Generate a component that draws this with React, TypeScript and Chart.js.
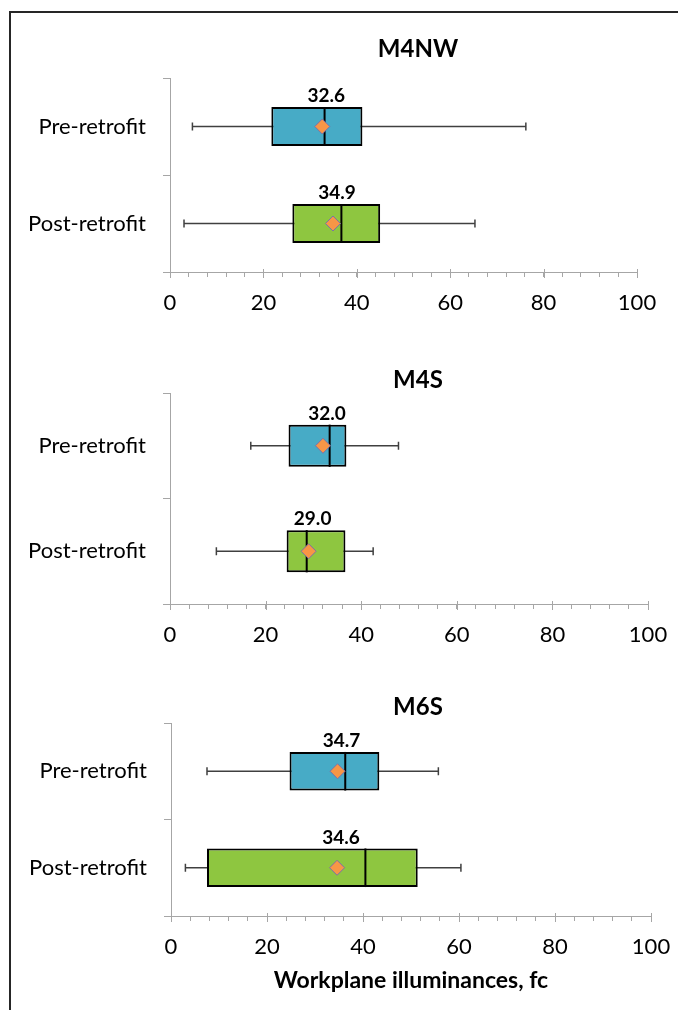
import { useEffect, useRef } from 'react';
import { Chart, registerables } from 'chart.js';

Chart.register(...registerables);

// ---------- data ----------
const categories = ['Pre-retrofit', 'Post-retrofit'];
const panelTitles = ['M4NW', 'M4S', 'M6S'];
const xTickLabels = [0, 20, 40, 60, 80, 100];
const xAxisTitle = 'Workplane illuminances, fc';

const m4nwMin = [4.8, 3.0];
const m4nwQ1 = [21.7, 26.2];
const m4nwMedian = [33.1, 36.7];
const m4nwQ3 = [41.2, 45.0];
const m4nwMax = [76.2, 65.3];
const m4nwMean = [32.6, 34.9];

const m4sMin = [16.9, 9.7];
const m4sQ1 = [24.8, 24.4];
const m4sMedian = [33.4, 28.6];
const m4sQ3 = [36.9, 36.7];
const m4sMax = [47.8, 42.5];
const m4sMean = [32.0, 29.0];

const m6sMin = [7.5, 3.0];
const m6sQ1 = [24.7, 7.5];
const m6sMedian = [36.3, 40.5];
const m6sQ3 = [43.4, 51.4];
const m6sMax = [55.7, 60.4];
const m6sMean = [34.7, 34.6];

const panelStats = [
  { min: m4nwMin, q1: m4nwQ1, median: m4nwMedian, q3: m4nwQ3, max: m4nwMax, mean: m4nwMean },
  { min: m4sMin, q1: m4sQ1, median: m4sMedian, q3: m4sQ3, max: m4sMax, mean: m4sMean },
  { min: m6sMin, q1: m6sQ1, median: m6sMedian, q3: m6sQ3, max: m6sMax, mean: m6sMean },
];

// ---------- style ----------
const boxColors = ['#47ABC6', '#8EC640'];
const meanFill = '#F79646';
const meanBorder = '#7E6FA8';
const axisColor = '#A6A6A6';
const FONT = "Lato, 'Open Sans', sans-serif";
const CANVAS_W = 836;

const geom = [
  { top: 22, height: 295, left: 170, right: 637, padTop: 15, padBottom: 17, xAxisH: 45, xTitle: false },
  { top: 345, height: 304, left: 170, right: 648, padTop: 23, padBottom: 1, xAxisH: 45, xTitle: false },
  { top: 672, height: 329, left: 171, right: 651, padTop: 23, padBottom: 4, xAxisH: 85, xTitle: true },
];

function makeBoxPlugin(stats: any) {
  return {
    id: 'boxExtras',
    beforeDatasetsDraw(chart: any) {
      const { ctx } = chart;
      const xs = chart.scales.x;
      const ys = chart.scales.y;
      ctx.save();
      ctx.strokeStyle = '#404040';
      ctx.lineWidth = 1.5;
      stats.min.forEach((mn: number, i: number) => {
        const py = ys.getPixelForValue(i);
        const x1 = xs.getPixelForValue(mn);
        const x2 = xs.getPixelForValue(stats.max[i]);
        ctx.beginPath();
        ctx.moveTo(x1, py);
        ctx.lineTo(x2, py);
        ctx.moveTo(x1, py - 4);
        ctx.lineTo(x1, py + 4);
        ctx.moveTo(x2, py - 4);
        ctx.lineTo(x2, py + 4);
        ctx.stroke();
      });
      // major ticks that cross the x axis slightly
      ctx.strokeStyle = axisColor;
      ctx.lineWidth = 1;
      const yb = chart.chartArea.bottom;
      xTickLabels.forEach((v) => {
        const px = Math.round(xs.getPixelForValue(v)) + 0.5;
        ctx.beginPath();
        ctx.moveTo(px, yb - 3);
        ctx.lineTo(px, yb + 6);
        ctx.stroke();
      });
      ctx.restore();
    },
    afterDatasetDraw(chart: any, args: any) {
      if (args.index !== 0) return;
      const { ctx } = chart;
      const xs = chart.scales.x;
      ctx.save();
      ctx.strokeStyle = '#000';
      ctx.lineWidth = 2;
      args.meta.data.forEach((el: any, i: number) => {
        const p = el.getProps(['y', 'height'], true);
        const px = xs.getPixelForValue(stats.median[i]);
        ctx.beginPath();
        ctx.moveTo(px, p.y - p.height / 2);
        ctx.lineTo(px, p.y + p.height / 2);
        ctx.stroke();
      });
      ctx.restore();
    },
    afterDatasetsDraw(chart: any) {
      const { ctx } = chart;
      const barMeta = chart.getDatasetMeta(0);
      const meanMeta = chart.getDatasetMeta(1);
      ctx.save();
      ctx.fillStyle = '#000';
      ctx.font = `bold 19px ${FONT}`;
      ctx.textAlign = 'center';
      ctx.textBaseline = 'middle';
      meanMeta.data.forEach((pt: any, i: number) => {
        const bar = barMeta.data[i].getProps(['y', 'height'], true);
        ctx.fillText(stats.mean[i].toFixed(1), pt.x + 4, bar.y - bar.height / 2 - 11);
      });
      ctx.restore();
    },
  };
}

function Panel({ idx }: { idx: number }) {
  const ref = useRef<HTMLCanvasElement>(null);
  const g = geom[idx];
  useEffect(() => {
    const stats = panelStats[idx];
    const chart = new Chart(ref.current as HTMLCanvasElement, {
      type: 'bar',
      data: {
        labels: categories,
        datasets: [
          {
            type: 'bar',
            data: stats.q1.map((v, i) => [v, stats.q3[i]]),
            backgroundColor: boxColors,
            borderColor: '#000',
            borderWidth: 2,
            borderSkipped: false,
            barPercentage: 0.4,
            categoryPercentage: 1,
            order: 1,
          } as any,
          {
            type: 'line',
            data: stats.mean.map((v, i) => ({ x: v, y: categories[i] })),
            showLine: false,
            pointStyle: 'rectRot',
            pointRadius: 7.5,
            pointBackgroundColor: meanFill,
            pointBorderColor: meanBorder,
            pointBorderWidth: 1,
            order: 0,
          } as any,
        ],
      },
      options: {
        indexAxis: 'y',
        responsive: false,
        animation: false,
        events: [],
        layout: { padding: 0 },
        plugins: {
          legend: { display: false },
          tooltip: { enabled: false },
          title: {
            display: true,
            text: panelTitles[idx],
            color: '#000',
            font: { family: FONT, size: 24, weight: 'bold', lineHeight: 1 },
            padding: { top: g.padTop, bottom: g.padBottom },
          },
        },
        scales: {
          x: {
            type: 'linear',
            min: 0,
            max: 100,
            ticks: {
              stepSize: 4,
              maxTicksLimit: 30,
              autoSkip: false,
              maxRotation: 0,
              padding: 13,
              color: '#000',
              font: { family: FONT, size: 22 },
              callback: (v: any) => (xTickLabels.includes(Number(v)) ? String(v) : ''),
            },
            grid: { drawOnChartArea: false, color: axisColor, tickLength: 5 },
            border: { color: axisColor, width: 1 },
            title: {
              display: g.xTitle,
              text: xAxisTitle,
              color: '#000',
              font: { family: FONT, size: 23, weight: 'bold', lineHeight: 1.2 },
              padding: { top: 4, bottom: 7 },
            },
            afterFit: (s: any) => {
              s.height = g.xAxisH;
            },
          },
          y: {
            type: 'category',
            position: 'left',
            offset: true,
            ticks: { color: '#000', font: { family: FONT, size: 22 }, padding: 17 },
            grid: { offset: true, drawOnChartArea: false, color: axisColor, tickLength: 7 },
            border: { color: axisColor, width: 1 },
            afterFit: (s: any) => {
              s.width = g.left;
            },
          },
          yR: {
            type: 'category',
            position: 'right',
            display: true,
            ticks: { display: false },
            grid: { display: false },
            border: { display: false },
            afterFit: (s: any) => {
              s.width = CANVAS_W - g.right;
            },
          },
        },
      } as any,
      plugins: [makeBoxPlugin(stats)],
    });
    return () => chart.destroy();
  }, [idx]);
  return (
    <canvas
      ref={ref}
      width={CANVAS_W}
      height={g.height}
      style={{ position: 'absolute', left: 0, top: g.top, width: CANVAS_W, height: g.height }}
    />
  );
}

export default function App() {
  return (
    <div
      style={{
        position: 'absolute',
        left: 0,
        top: 0,
        width: 678,
        height: 1010,
        overflow: 'hidden',
        background: '#fff',
      }}
    >
      <div
        style={{
          position: 'absolute',
          left: 9,
          top: 11,
          width: 900,
          height: 1100,
          borderTop: '2px solid #262626',
          borderLeft: '2px solid #262626',
        }}
      />
      {panelTitles.map((_, i) => (
        <Panel key={i} idx={i} />
      ))}
    </div>
  );
}
